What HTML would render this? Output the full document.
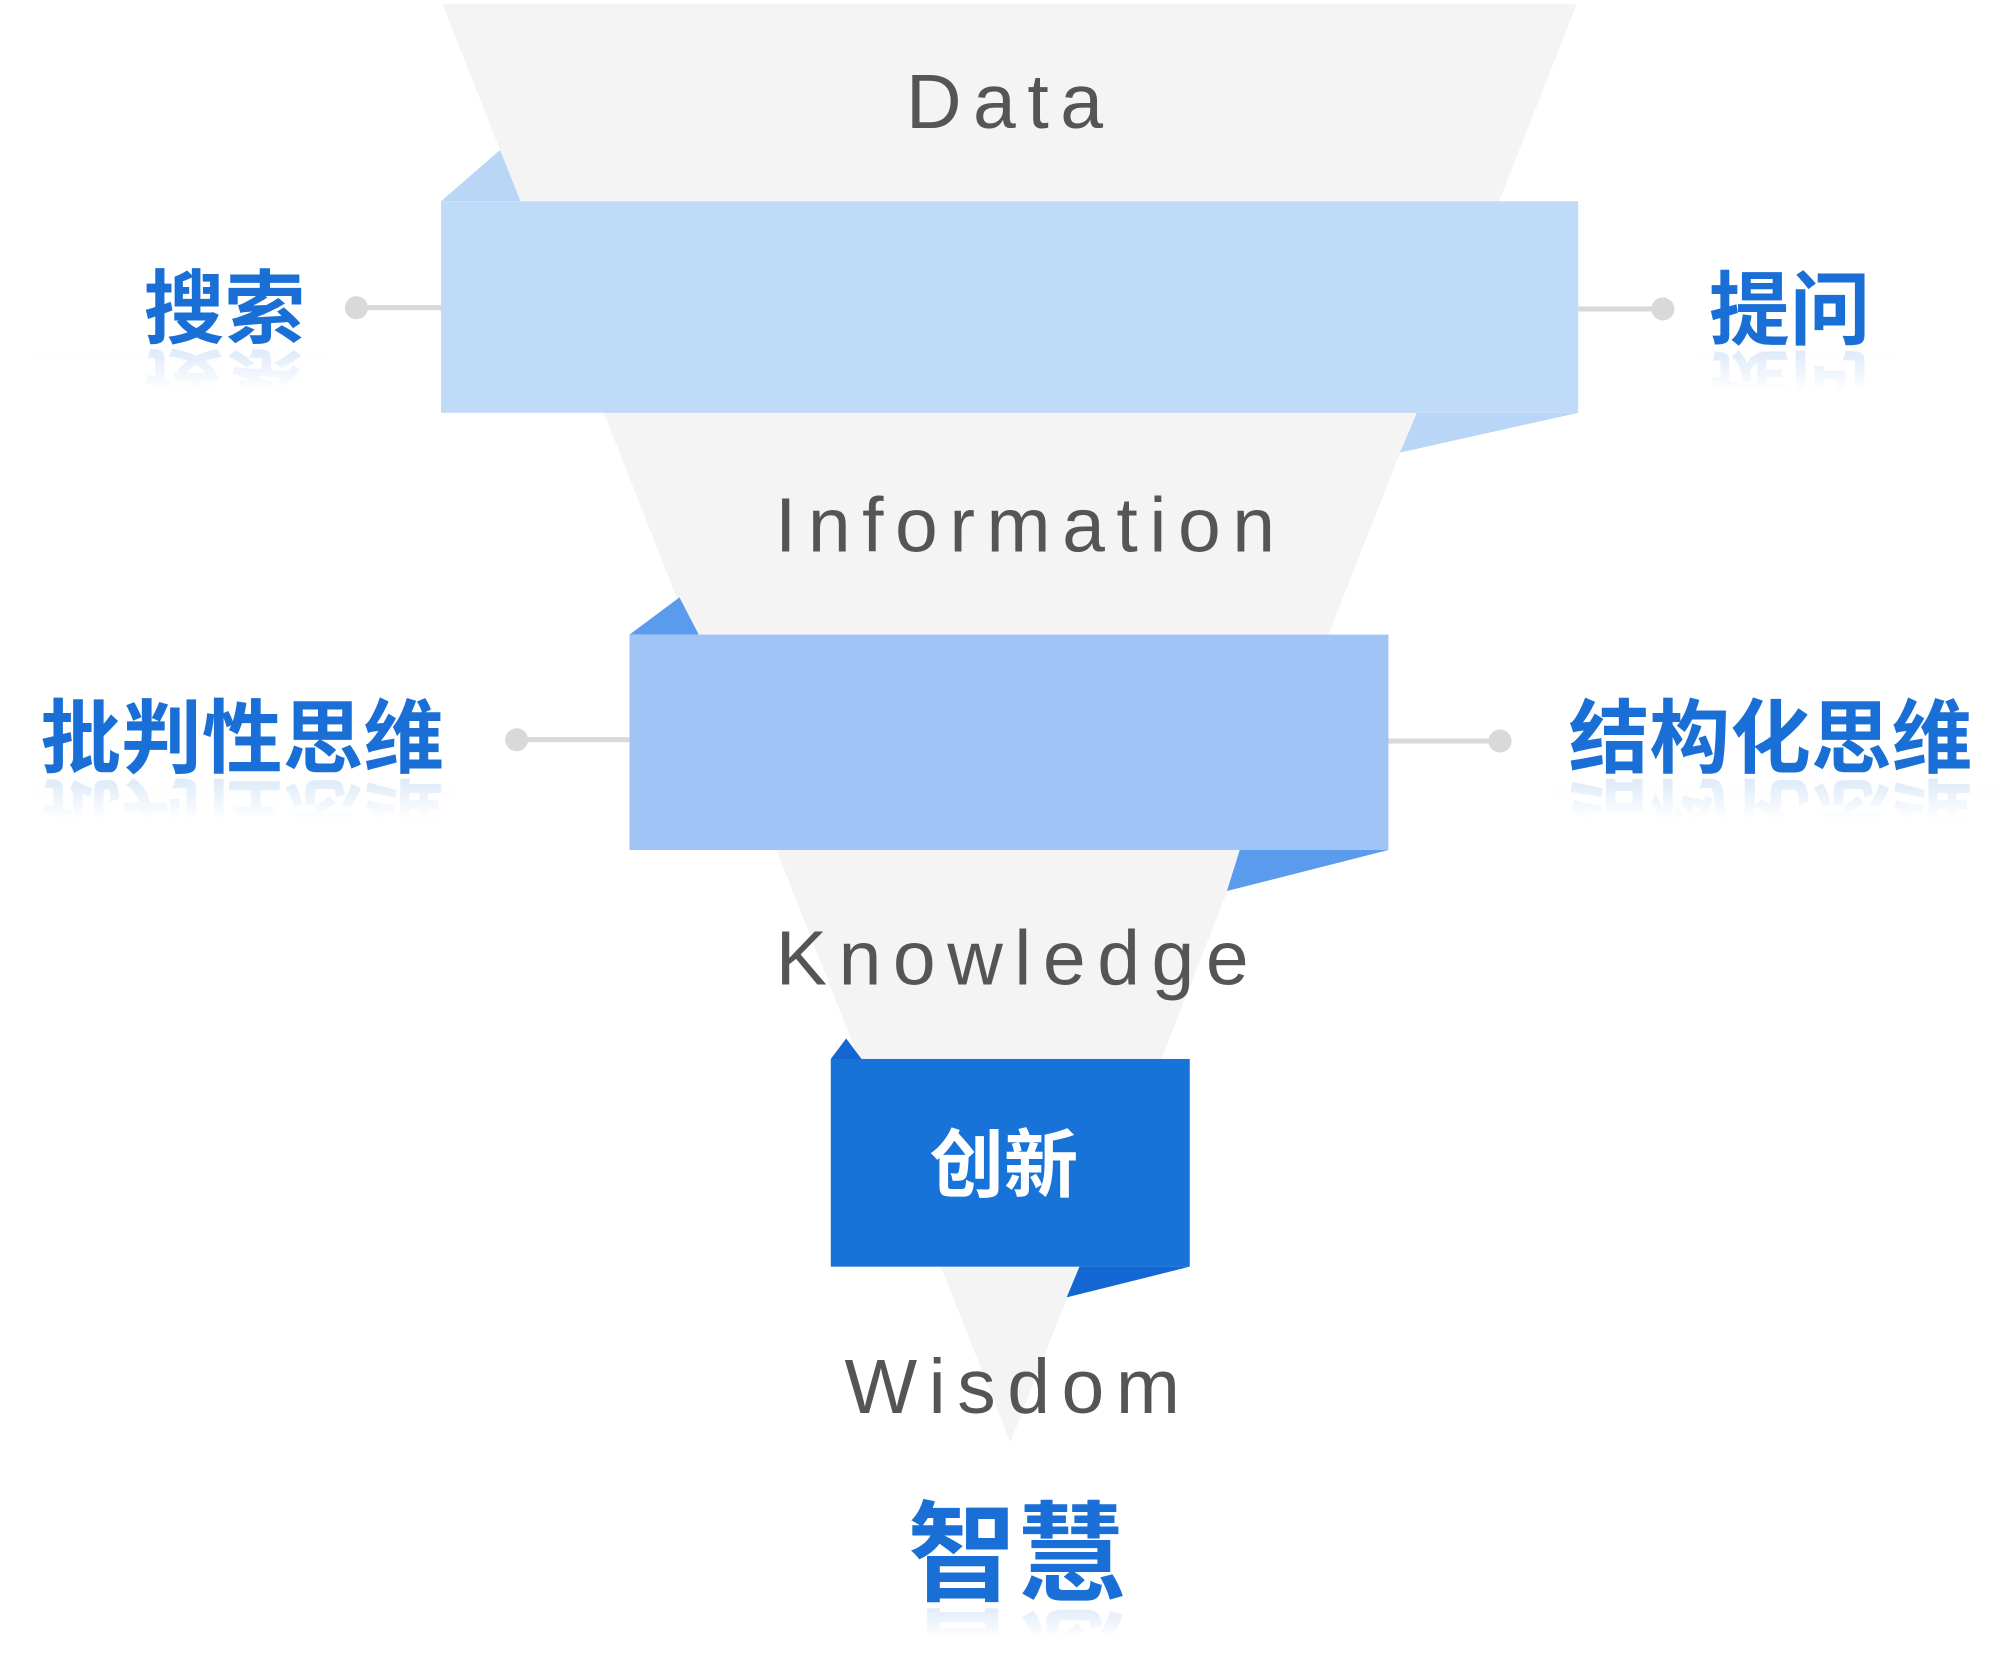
<!DOCTYPE html>
<html><head><meta charset="utf-8"><style>
html,body{margin:0;padding:0;background:#fff}
svg{display:block}
.en{font-family:"Liberation Sans",sans-serif;fill:#555;letter-spacing:9px}
.cn{font-family:"Liberation Sans","Noto Sans CJK SC",sans-serif;font-weight:bold;fill:#1a6fd6}
</style></head><body>
<svg width="2000" height="1675" viewBox="0 0 1560 1306.5" xmlns="http://www.w3.org/2000/svg">
<defs>
<linearGradient id="rf" x1="0" y1="0" x2="0" y2="1">
<stop offset="0" stop-color="#fff" stop-opacity="0.3"/><stop offset="0.5" stop-color="#fff" stop-opacity="1"/><stop offset="1" stop-color="#fff" stop-opacity="1"/>
</linearGradient>
</defs>
<polygon points="345,3 1230,3 788,1125" fill="#f4f4f4"/>
<polygon points="344,157 390,117 406,157" fill="#b9d6f6"/>
<polygon points="1231,322 1092,353 1105,322" fill="#b9d6f6"/>
<rect x="344" y="157" width="887" height="165" fill="#c0dbf7"/>
<polygon points="491,495 530,466 545,495" fill="#5b9bee"/>
<polygon points="1083,663 957,695 967,663" fill="#5b9bee"/>
<rect x="491" y="495" width="592" height="168" fill="#a0c4f5"/>
<polygon points="648,826 660,810 672,826" fill="#1466d2"/>
<polygon points="928,988 832,1012 842,988" fill="#1466d2"/>
<rect x="648" y="826" width="280" height="162" fill="#1773d8"/>
<text class="en" x="788" y="100" font-size="60" text-anchor="middle">Data</text>
<text class="en" x="804" y="430" font-size="60" text-anchor="middle">Information</text>
<text class="en" x="794" y="768" font-size="60" text-anchor="middle">Knowledge</text>
<text class="en" x="794" y="1102" font-size="60" text-anchor="middle">Wisdom</text>
<g stroke="#d9d9d9" stroke-width="4"><line x1="278" y1="240" x2="344" y2="240"/><line x1="1231" y1="241" x2="1297" y2="241"/><line x1="403" y1="577" x2="491" y2="577"/><line x1="1083" y1="578" x2="1170" y2="578"/></g>
<g fill="#d9d9d9"><circle cx="278" cy="240" r="9"/><circle cx="1297" cy="241" r="9"/><circle cx="403" cy="577" r="9"/><circle cx="1170" cy="578" r="9"/></g>
<g class="cn">
<text x="175" y="263" font-size="63" text-anchor="middle">搜索</text>
<text x="1396" y="264" font-size="63" text-anchor="middle">提问</text>
<text x="189" y="598" font-size="63" text-anchor="middle">批判性思维</text>
<text x="1381" y="598" font-size="63" text-anchor="middle">结构化思维</text>
<text x="793" y="1242" font-size="85" text-anchor="middle">智慧</text>
</g>
<g class="cn" opacity="0.22">
<text x="175" y="-278" font-size="63" text-anchor="middle" transform="scale(1,-1)">搜索</text>
<text x="1396" y="-279" font-size="63" text-anchor="middle" transform="scale(1,-1)">提问</text>
<text x="189" y="-613" font-size="63" text-anchor="middle" transform="scale(1,-1)">批判性思维</text>
<text x="1381" y="-613" font-size="63" text-anchor="middle" transform="scale(1,-1)">结构化思维</text>
<text x="793" y="-1262" font-size="85" text-anchor="middle" transform="scale(1,-1)">智慧</text>
</g>
<rect x="20" y="270" width="240" height="70" fill="url(#rf)"/>
<rect x="1320" y="271" width="160" height="70" fill="url(#rf)"/>
<rect x="20" y="605" width="340" height="70" fill="url(#rf)"/>
<rect x="1210" y="605" width="350" height="70" fill="url(#rf)"/>
<rect x="700" y="1250" width="190" height="57" fill="url(#rf)"/>
<text x="783" y="929" font-size="58" text-anchor="middle" font-family="Liberation Sans,Noto Sans CJK SC,sans-serif" font-weight="bold" fill="#fff">创新</text>
</svg>
</body></html>
